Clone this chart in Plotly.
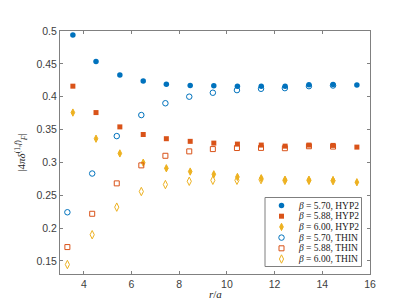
import plotly.graph_objects as go

# ---- data ----
r_hyp = [3.54, 4.51, 5.51, 6.49, 7.46, 8.46, 9.45, 10.44, 11.44, 12.44, 13.44, 14.45, 15.45]
r_thin = [3.31, 4.35, 5.38, 6.41, 7.42, 8.42, 9.41, 10.42, 11.43, 12.43, 13.44, 14.45]

hyp_570 = [0.494, 0.4535, 0.433, 0.424, 0.419, 0.417, 0.4165, 0.416, 0.416, 0.4157, 0.418, 0.4187, 0.4177]
hyp_588 = [0.416, 0.3758, 0.354, 0.3424, 0.336, 0.332, 0.3293, 0.3278, 0.3263, 0.3247, 0.3263, 0.3258, 0.3232]
hyp_600 = [0.3758, 0.336, 0.3136, 0.2995, 0.291, 0.286, 0.2818, 0.2778, 0.2758, 0.2732, 0.2732, 0.2727, 0.2697]

thin_570 = [0.224, 0.283, 0.340, 0.372, 0.390, 0.400, 0.406, 0.410, 0.412, 0.413, 0.416, 0.417]
thin_588 = [0.171, 0.2217, 0.268, 0.2954, 0.310, 0.3167, 0.3202, 0.3218, 0.322, 0.3215, 0.3245, 0.324]
thin_600 = [0.1444, 0.1898, 0.2318, 0.2556, 0.2662, 0.2712, 0.2727, 0.2727, 0.2737, 0.2725, 0.2725, 0.272]

labels = ["<i>β</i> = 5.70, HYP2", "<i>β</i> = 5.88, HYP2", "<i>β</i> = 6.00, HYP2",
          "<i>β</i> = 5.70, THIN", "<i>β</i> = 5.88, THIN", "<i>β</i> = 6.00, THIN"]

x_ticks = [4, 6, 8, 10, 12, 14, 16]
y_ticks = [0.15, 0.2, 0.25, 0.3, 0.35, 0.4, 0.45, 0.5]
y_ticktext = ["0.15", "0.2", "0.25", "0.3", "0.35", "0.4", "0.45", "0.5"]

# ---- styles ----
C_BLUE, C_ORANGE, C_YELLOW = "#0072BD", "#D95319", "#EDB120"
styles = [
    dict(symbol="circle", size=5.5, color=C_BLUE),
    dict(symbol="square", size=5, color=C_ORANGE),
    dict(symbol="diamond-tall", size=5.2, color=C_YELLOW, line=dict(width=1, color=C_YELLOW)),
    dict(symbol="circle-open", size=5.5, color=C_BLUE, line=dict(width=1, color=C_BLUE)),
    dict(symbol="square-open", size=5, color=C_ORANGE, line=dict(width=1, color=C_ORANGE)),
    dict(symbol="diamond-tall-open", size=6, color=C_YELLOW, line=dict(width=1, color=C_YELLOW)),
]

series = [(r_hyp, hyp_570), (r_hyp, hyp_588), (r_hyp, hyp_600),
          (r_thin, thin_570), (r_thin, thin_588), (r_thin, thin_600)]

fig = go.Figure()
for (xs, ys), st, lab in zip(series, styles, labels):
    fig.add_trace(go.Scatter(x=xs, y=ys, mode="markers", marker=st, name=lab,
                             showlegend=False, cliponaxis=False))

# ---- custom compact legend on a pixel overlay axis ----
L, R, T, B = 52, 362, 23, 266
leg_rows = [197.5, 208.2, 218.9, 229.6, 240.3, 251.0]
fig.add_shape(type="rect", xref="x2", yref="y2", x0=257, x1=353.5, y0=189.5, y1=258.5,
              line=dict(color="#7f7f7f", width=1), fillcolor="white", layer="below")
for yy, st, lab in zip(leg_rows, styles, labels):
    fig.add_trace(go.Scatter(x=[273.5], y=[yy], xaxis="x2", yaxis="y2", mode="markers",
                             marker=st, showlegend=False, hoverinfo="skip"))
    fig.add_annotation(x=287.5, y=yy, xref="x2", yref="y2", text=lab, showarrow=False,
                       xanchor="left", yanchor="middle",
                       font=dict(family="Liberation Serif", size=9.5, color="#1a1a1a"))

# x-axis title placed as annotation (closer to tick labels, as in reference)
fig.add_annotation(x=0.5, xref="paper", y=-(286 - B) / (B - T), yref="paper",
                   text="<i>r</i>/<i>a</i>",
                   showarrow=False, xanchor="center", yanchor="middle",
                   font=dict(family="Liberation Serif", size=11, color="#262626"))

axis_common = dict(showline=True, linecolor="#808080", linewidth=1, mirror="ticks",
                   ticks="inside", ticklen=3, tickcolor="#808080", showgrid=False,
                   zeroline=False,
                   tickfont=dict(family="Liberation Sans", size=10.5, color="#404040"))

fig.update_layout(
    width=399, height=299,
    margin=dict(l=L, r=399 - R, t=T, b=299 - B),
    paper_bgcolor="white", plot_bgcolor="white",
    xaxis=dict(range=[3, 16], tickvals=x_ticks, **axis_common),
    yaxis=dict(range=[0.13, 0.5], tickvals=y_ticks, ticktext=y_ticktext,
               title=dict(text="|4<i>πδ</i><sup>(1,<i>f</i>)</sup><sub><i>F</i></sub>|", standoff=8,
                          font=dict(family="Liberation Serif", size=11, color="#262626")),
               **axis_common),
    xaxis2=dict(overlaying="x", range=[L, R], visible=False, fixedrange=True),
    yaxis2=dict(overlaying="y", range=[B, T], visible=False, fixedrange=True),
    showlegend=False,
)

fig.write_html("out.html")
